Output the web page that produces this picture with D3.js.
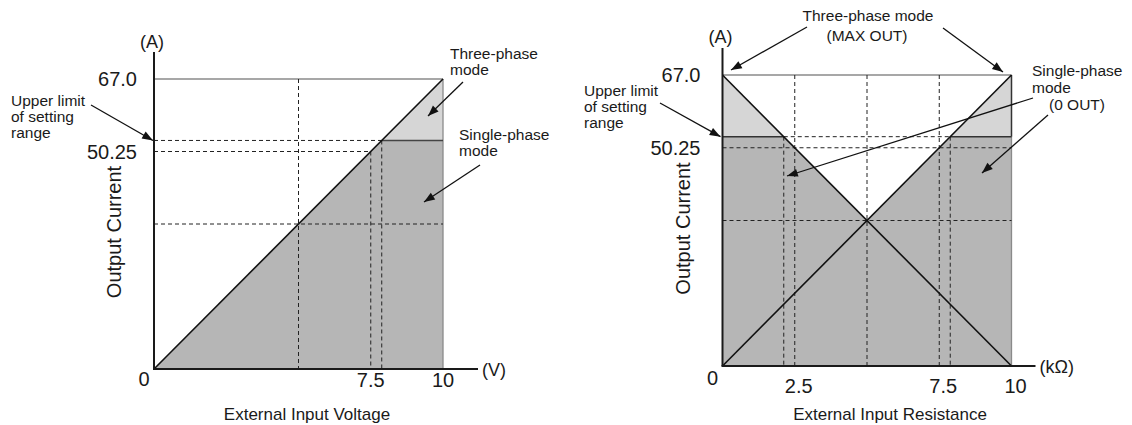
<!DOCTYPE html>
<html>
<head>
<meta charset="utf-8">
<script src="https://cdn.jsdelivr.net/npm/d3@7"></script>
<style>
  body { margin: 0; background: #fff; }
  svg { display: block; }
  text { font-family: "Liberation Sans", Arial, Helvetica, sans-serif; fill: #1a1a1a; }
</style>
</head>
<body>
<svg width="1132" height="425"></svg>
<script>
// values (A, V, kOhm)
var maxOut = 67.0;        // three-phase mode top
var upperLimit = 52.8;    // single-phase cap (upper limit of setting range)
var setLevel = 50.25;
var midLevel = 33.5;
var midInput = 5;
var inputMax = 10;
var voltTicks = [0, 7.5, 10];
var resTicks = [0, 2.5, 7.5, 10];
var currTicks = [67.0, 50.25];
var voltLine = [[0, 0], [10, 67]];
var resUp = [[0, 0], [10, 67]];
var resDown = [[0, 67], [10, 0]];

var svg = d3.select("svg");

svg.append("defs").append("marker")
  .attr("id", "arrowhead")
  .attr("viewBox", "0 -5 12 10")
  .attr("refX", 12)
  .attr("refY", 0)
  .attr("orient", "auto")
  .attr("markerUnits", "userSpaceOnUse")
  .attr("markerWidth", 13)
  .attr("markerHeight", 9)
  .append("path")
  .attr("d", "M0,-4.5 L12,0 L0,4.5 Z")
  .attr("fill", "#111");

var line = d3.line();
var slope = maxOut / inputMax;

function seg(g, x, y, a, b) {
  return g.append("path")
    .attr("d", line([[x(a[0]), y(a[1])], [x(b[0]), y(b[1])]]));
}

function dashed(g, x, y, a, b) {
  seg(g, x, y, a, b)
    .attr("fill", "none")
    .attr("stroke", "#222")
    .attr("stroke-width", 1)
    .attr("stroke-dasharray", "4,3");
}

function solid(g, x, y, a, b, color, w) {
  seg(g, x, y, a, b)
    .attr("fill", "none")
    .attr("stroke", color)
    .attr("stroke-width", w);
}

function poly(g, x, y, pts, color) {
  g.append("path")
    .attr("d", line(pts.map(function(p) { return [x(p[0]), y(p[1])]; })) + "Z")
    .attr("fill", color)
    .attr("stroke", "none");
}

function arrow(from, to) {
  svg.append("path")
    .attr("d", line([from, to]))
    .attr("stroke", "#111")
    .attr("stroke-width", 1.3)
    .attr("fill", "none")
    .attr("marker-end", "url(#arrowhead)");
}

function lines(x0, y0, rows, size, anchor, dy) {
  var t = svg.append("text")
    .attr("font-size", size)
    .attr("text-anchor", anchor || "start");
  rows.forEach(function(r, i) {
    t.append("tspan")
      .attr("x", r.dx == null ? x0 : x0 + r.dx)
      .attr("y", y0 + i * dy)
      .text(r.t);
  });
}

function axes(g, x, y, opts) {
  // axis lines
  g.append("line")
    .attr("x1", x(0)).attr("y1", y(0))
    .attr("x2", x(0)).attr("y2", y(maxOut) - opts.yOver)
    .attr("stroke", "#1a1a1a").attr("stroke-width", 2);
  g.append("line")
    .attr("x1", x(0) - 1).attr("y1", y(0))
    .attr("x2", x(inputMax) + opts.xOver).attr("y2", y(0))
    .attr("stroke", "#1a1a1a").attr("stroke-width", 2);

  // y tick labels
  g.selectAll(".ytick")
    .data(currTicks)
    .enter().append("text")
    .attr("class", "ytick")
    .attr("x", x(0) - opts.yLabGap)
    .attr("y", function(d) { return y(d) + 7; })
    .attr("text-anchor", "end")
    .attr("font-size", 20)
    .text(function(d) { return d == 67 ? "67.0" : d3.format(".2f")(d); });

  // x tick labels
  g.selectAll(".xtick")
    .data(opts.ticks)
    .enter().append("text")
    .attr("class", "xtick")
    .attr("x", function(d) { return d == 0 ? x(0) - 10 : x(d) + opts.tickShift; })
    .attr("y", function(d) { return d == 0 ? y(0) + opts.zeroDy : y(0) + opts.tickDy; })
    .attr("text-anchor", "middle")
    .attr("font-size", 20)
    .text(function(d) { return d; });

  g.append("text")
    .attr("x", x(0) - 2).attr("y", y(maxOut) - opts.unitDy)
    .attr("text-anchor", "middle").attr("font-size", 18)
    .text("(A)");
  g.append("text")
    .attr("x", x(inputMax) + opts.xOver + 4).attr("y", y(0) + 7)
    .attr("font-size", 18)
    .text(opts.xUnit);

  g.append("text")
    .attr("transform", "translate(" + (x(0) - 33) + "," + ((y(0) + y(maxOut)) / 2 + 8) + ") rotate(-90)")
    .attr("text-anchor", "middle")
    .attr("font-size", 20)
    .text("Output Current");

  g.append("text")
    .attr("x", opts.titleX).attr("y", 420)
    .attr("text-anchor", "middle")
    .attr("font-size", 17)
    .text(opts.title);
}

// ---------- left: voltage ----------
(function() {
  var x = d3.scaleLinear().domain([0, inputMax]).range([154, 443]);
  var y = d3.scaleLinear().domain([0, maxOut]).range([369, 79]);
  var g = svg.append("g");
  var xc = upperLimit / slope;
  var xs = setLevel / slope;

  poly(g, x, y, [[0, 0], [xc, upperLimit], [inputMax, upperLimit], [inputMax, 0]], "#b6b6b6");
  poly(g, x, y, [[xc, upperLimit], [inputMax, maxOut], [inputMax, upperLimit]], "#d6d6d6");

  solid(g, x, y, [0, maxOut], [inputMax, maxOut], "#8a8a8a", 1.3);
  solid(g, x, y, [inputMax, 0], [inputMax, maxOut], "#8a8a8a", 1.3);

  dashed(g, x, y, [midInput, maxOut], [midInput, 0]);
  dashed(g, x, y, [0, midLevel], [inputMax, midLevel]);
  dashed(g, x, y, [0, upperLimit], [xc, upperLimit]);
  dashed(g, x, y, [0, setLevel], [xs, setLevel]);
  dashed(g, x, y, [xs, setLevel], [xs, 0]);
  dashed(g, x, y, [xc, upperLimit], [xc, 0]);

  solid(g, x, y, [xc, upperLimit], [inputMax, upperLimit], "#444", 1.5);
  solid(g, x, y, voltLine[0], voltLine[1], "#111", 1.6);

  axes(g, x, y, {
    ticks: voltTicks, xOver: 35, yOver: 27, yLabGap: 17, tickDy: 18, zeroDy: 17, tickShift: 0,
    unitDy: 31, xUnit: "(V)", title: "External Input Voltage", titleX: 307
  });

  lines(11, 106, [{t: "Upper limit"}, {t: "of setting"}, {t: "range"}], 15.5, "start", 16);
  arrow([91, 105], [x(0) - 1, y(upperLimit)]);
  lines(450, 59, [{t: "Three-phase"}, {t: "mode"}], 15.5, "start", 16);
  arrow([463, 82], [428, 116]);
  lines(459, 140, [{t: "Single-phase"}, {t: "mode"}], 15.5, "start", 16);
  arrow([480, 165], [424, 202]);
})();

// ---------- right: resistance ----------
(function() {
  var x = d3.scaleLinear().domain([0, inputMax]).range([722.5, 1011.5]);
  var y = d3.scaleLinear().domain([0, maxOut]).range([366, 75]);
  var g = svg.append("g");
  var xu = upperLimit / slope;
  var xd = inputMax - upperLimit / slope;

  poly(g, x, y, [[0, 0], [0, upperLimit], [xd, upperLimit], [midInput, midLevel],
                 [xu, upperLimit], [inputMax, upperLimit], [inputMax, 0]], "#b6b6b6");
  poly(g, x, y, [[0, maxOut], [0, upperLimit], [xd, upperLimit]], "#d6d6d6");
  poly(g, x, y, [[xu, upperLimit], [inputMax, maxOut], [inputMax, upperLimit]], "#d6d6d6");

  solid(g, x, y, [0, maxOut], [inputMax, maxOut], "#8a8a8a", 1.3);
  solid(g, x, y, [inputMax, 0], [inputMax, upperLimit], "#8a8a8a", 1.3);
  solid(g, x, y, [inputMax, upperLimit], [inputMax, maxOut], "#333", 1.5);

  [2.5, midInput, 7.5].forEach(function(v) { dashed(g, x, y, [v, maxOut], [v, 0]); });
  dashed(g, x, y, [xd, upperLimit], [xd, 0]);
  dashed(g, x, y, [xu, upperLimit], [xu, 0]);
  dashed(g, x, y, [0, setLevel], [inputMax, setLevel]);
  dashed(g, x, y, [0, midLevel], [inputMax, midLevel]);
  dashed(g, x, y, [xd, upperLimit], [xu, upperLimit]);

  solid(g, x, y, [0, upperLimit], [xd, upperLimit], "#333", 1.5);
  solid(g, x, y, [xu, upperLimit], [inputMax, upperLimit], "#333", 1.5);
  solid(g, x, y, resUp[0], resUp[1], "#111", 1.6);
  solid(g, x, y, resDown[0], resDown[1], "#111", 1.6);

  axes(g, x, y, {
    ticks: resTicks, xOver: 24, yOver: 27, yLabGap: 22, tickDy: 27, zeroDy: 19, tickShift: 4,
    unitDy: 32, xUnit: "(k\u03A9)", title: "External Input Resistance", titleX: 890
  });

  lines(868, 21, [{t: "Three-phase mode"}, {t: "(MAX OUT)", dx: -1}], 15.5, "middle", 20);
  arrow([807, 27], [731, 70]);
  arrow([943, 28], [1003, 72]);

  lines(584, 96, [{t: "Upper limit"}, {t: "of setting"}, {t: "range"}], 15.5, "start", 16);
  arrow([660, 103], [x(0) - 2, y(upperLimit)]);

  lines(1032, 76, [{t: "Single-phase"}, {t: "mode"}, {t: "(0 OUT)", dx: 17}], 15.5, "start", 17);
  arrow([1033, 98], [787, 176]);
  arrow([1048, 115], [982, 173]);
})();
</script>
</body>
</html>
